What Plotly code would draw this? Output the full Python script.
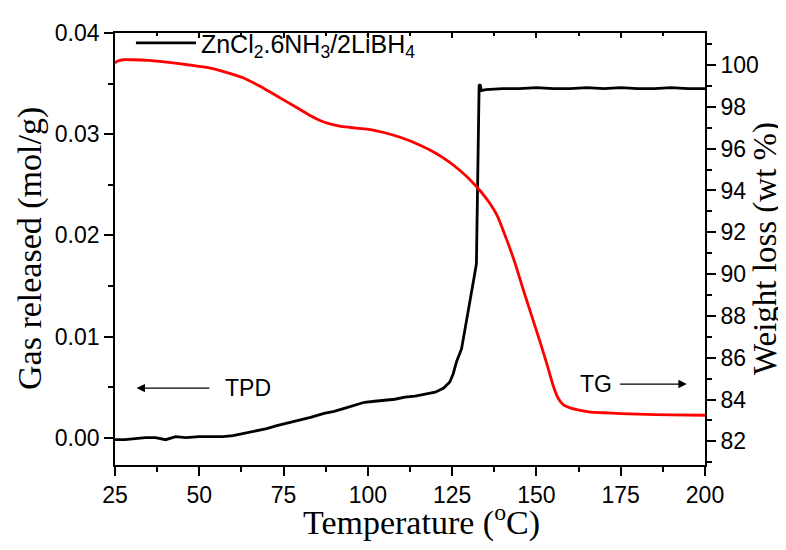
import plotly.graph_objects as go

# TPD curve (left axis): temperature (°C) vs gas released (mol/g)
T_tpd = [25, 28, 31, 34, 37, 40, 43, 46, 50, 53, 57, 60, 63, 67, 70, 73, 77, 80, 83, 87,
         90, 93, 96, 99, 102, 105, 108, 111, 114, 117, 120, 122.5, 124.3, 125.3, 126.3,
         127.8, 129.3, 130.7, 131.6, 132.2, 132.6, 133.0, 133.3, 133.7, 135, 140, 145,
         150, 155, 160, 165, 170, 175, 180, 185, 190, 195, 200]
gas = [-0.0002, -0.0002, -0.0001, 0.0000, 0.0000, -0.0002, 0.0001, 0.0000, 0.0001, 0.0001,
       0.0001, 0.0002, 0.0004, 0.0007, 0.0009, 0.0012, 0.0015, 0.0018, 0.0020, 0.0024,
       0.0026, 0.0029, 0.0032, 0.0035, 0.0036, 0.0037, 0.0038, 0.0040, 0.0041, 0.0043,
       0.0045, 0.0049, 0.0055, 0.0063, 0.0075, 0.0088, 0.0115, 0.0141, 0.0160, 0.0172,
       0.0250, 0.0348, 0.0349, 0.0343, 0.0344, 0.0345, 0.0345, 0.0346, 0.0345, 0.0345,
       0.0346, 0.0345, 0.0346, 0.0345, 0.0345, 0.0346, 0.0345, 0.0345]

# TG curve (right axis): temperature (°C) vs weight (wt %)
T_tg = [25, 26, 27.5, 30, 35, 41, 47, 53, 58, 63, 68, 73, 78, 83, 86, 89, 92, 96, 100, 105,
        110, 115, 119.5, 124, 127.5, 130.5, 133.5, 136, 138.5, 141, 143.5, 146, 148.5, 151,
        153, 155, 156.5, 158, 160, 163, 166, 170, 175, 180, 190, 200]
weight = [100.1, 100.2, 100.25, 100.25, 100.22, 100.12, 100.0, 99.86, 99.65, 99.39, 98.98,
          98.52, 98.05, 97.57, 97.33, 97.17, 97.06, 96.99, 96.93, 96.76, 96.52, 96.2,
          95.84, 95.38, 94.93, 94.48, 93.95, 93.42, 92.75, 91.72, 90.6, 89.3, 88.05, 86.8,
          85.75, 84.65, 84.05, 83.75, 83.6, 83.48, 83.4, 83.37, 83.33, 83.3, 83.27, 83.25]

x_ticks = [25, 50, 75, 100, 125, 150, 175, 200]
y_left_ticks = [0.00, 0.01, 0.02, 0.03, 0.04]
y_right_ticks = [82, 84, 86, 88, 90, 92, 94, 96, 98, 100]

SANS = "Liberation Sans, Arial, sans-serif"
SERIF = "Liberation Serif, Times New Roman, serif"

fig = go.Figure()
fig.add_trace(go.Scatter(
    x=T_tpd, y=gas, mode="lines", yaxis="y",
    line=dict(color="black", width=2.8),
    name="ZnCl<sub>2</sub>.6NH<sub>3</sub>/2LiBH<sub>4</sub>", showlegend=True))
fig.add_trace(go.Scatter(
    x=T_tg, y=weight, mode="lines", yaxis="y2",
    line=dict(color="#ff0000", width=2.8, shape="spline", smoothing=0.6),
    showlegend=False))
# invisible trace to carry the top frame axis
fig.add_trace(go.Scatter(x=[25, 200], y=[0, 0], xaxis="x2", yaxis="y",
                         mode="lines", line=dict(width=0), hoverinfo="skip",
                         showlegend=False))

line_common = dict(showgrid=False, zeroline=False, showline=True, linecolor="black",
                   linewidth=1.6, tickcolor="black", tickwidth=1.6)
tickfont = dict(family=SANS, size=23, color="black")

fig.update_layout(
    width=778, height=542,
    margin=dict(l=107, r=81, t=20, b=85),
    plot_bgcolor="white", paper_bgcolor="white",
    xaxis=dict(range=[25, 200], tickvals=x_ticks, ticks="outside", ticklen=9,
               tickfont=tickfont,
               minor=dict(dtick=12.5, tick0=25, ticks="outside", ticklen=5,
                          tickcolor="black", tickwidth=1.6),
               **line_common),
    xaxis2=dict(range=[25, 200], overlaying="x", side="top", tickvals=x_ticks,
                ticks="inside", ticklen=5, showticklabels=False,
                minor=dict(dtick=12.5, tick0=25, ticks="inside", ticklen=3,
                           tickcolor="black", tickwidth=1.6),
                **line_common),
    yaxis=dict(range=[-0.0027, 0.04], tickvals=y_left_ticks, tickformat=".2f",
               ticks="outside", ticklen=9, tickfont=tickfont,
               minor=dict(dtick=0.005, tick0=0, ticks="outside", ticklen=5,
                          tickcolor="black", tickwidth=1.6),
               **line_common),
    yaxis2=dict(range=[80.87, 101.53], overlaying="y", side="right",
                tickvals=y_right_ticks, ticks="outside", ticklen=9, tickfont=tickfont,
                minor=dict(dtick=1, tick0=80, ticks="outside", ticklen=5,
                           tickcolor="black", tickwidth=1.6),
                **line_common),
    legend=dict(x=0.027, y=1.03, xanchor="left", yanchor="top",
                bgcolor="rgba(0,0,0,0)", font=dict(family=SANS, size=25, color="black"),
                itemwidth=60),
    showlegend=True,
)

# Axis titles
fig.add_annotation(text="Temperature (<sup>o</sup>C)", xref="paper", yref="paper",
                   x=0.52, y=0, yshift=-55, showarrow=False, xanchor="center",
                   yanchor="middle", font=dict(family=SERIF, size=34, color="black"))
fig.add_annotation(text="Gas released (mol/g)", xref="paper", yref="paper",
                   x=0, xshift=-85, y=0.5, showarrow=False, textangle=-90,
                   xanchor="center", yanchor="middle",
                   font=dict(family=SERIF, size=34, color="black"))
fig.add_annotation(text="Weight loss (wt %)", xref="paper", yref="paper",
                   x=1, xshift=60, y=0.5, showarrow=False, textangle=-90,
                   xanchor="center", yanchor="middle",
                   font=dict(family=SERIF, size=33, color="black"))

# TPD / TG labels with arrows (arrow starts next to the label)
fig.add_annotation(text="TPD", x=31.4, y=0.0049, ax=64.4, ay=0.0049,
                   xref="x", yref="y", axref="x", ayref="y",
                   showarrow=True, arrowhead=2, arrowsize=1.4, arrowwidth=1.2,
                   arrowcolor="black", startstandoff=14,
                   font=dict(family=SANS, size=23, color="black"))
fig.add_annotation(text="TG", x=194.6, y=0.0053, ax=167.8, ay=0.0053,
                   xref="x", yref="y", axref="x", ayref="y",
                   showarrow=True, arrowhead=2, arrowsize=1.4, arrowwidth=1.2,
                   arrowcolor="black", startstandoff=6,
                   font=dict(family=SANS, size=23, color="black"))

fig.write_html("out.html")
